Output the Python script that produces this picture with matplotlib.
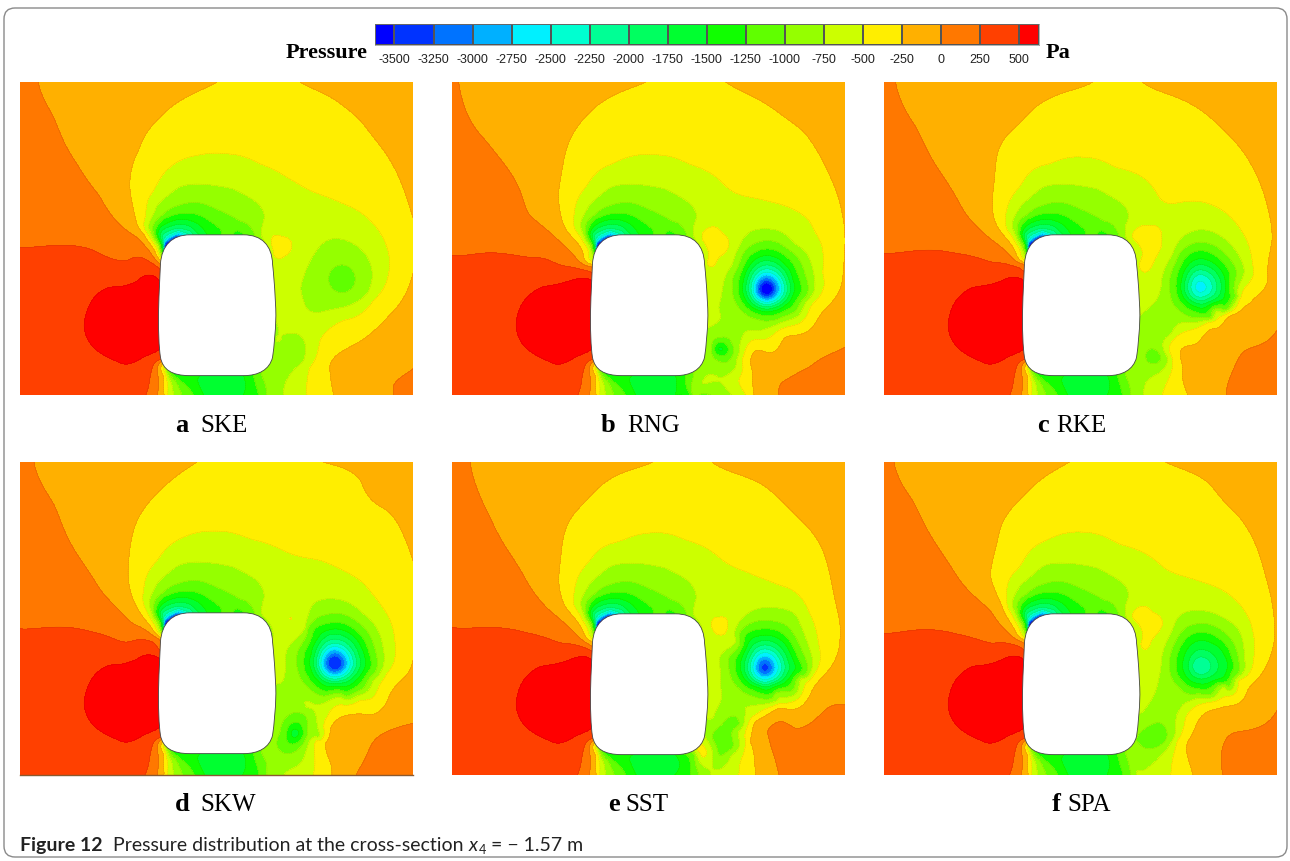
import numpy as np
import matplotlib
matplotlib.use('Agg')
import matplotlib.pyplot as plt
from matplotlib.colors import ListedColormap, BoundaryNorm
from matplotlib.patches import FancyBboxPatch, PathPatch
from matplotlib.path import Path

# 色带
LEVELS = [-3500, -3250, -3000, -2750, -2500, -2250, -2000, -1750, -1500,
          -1250, -1000, -750, -500, -250, 0, 250, 500]
BAND_COLORS = ['#0000ff', '#0033ff', '#0073ff', '#00b0ff', '#00f0ff', '#00ffd0',
               '#00ff95', '#00ff60', '#00ff30', '#10ff00', '#60ff00', '#95ff00',
               '#ccff00', '#ffee00', '#ffb000', '#ff7800', '#ff4000', '#ff0000']
BAR_LABELS = ['-3500', '-3250', '-3000', '-2750', '-2500', '-2250', '-2000', '-1750', '-1500',
              '-1250', '-1000', '-750', '-500', '-250', '0', '250', '500']

MODELS = ['SKE', 'RNG', 'RKE', 'SKW', 'SST', 'SPA']
LETTERS = ['a', 'b', 'c', 'd', 'e', 'f']

# 读图压力采样: (压力, [(x, y), ...]), 坐标为面板内 1/3 像素
NOSE_SAMPLES = [
    (-750, [(420, 516), (395, 461), (410, 371), (475, 316), (540, 306), (640, 321), (710, 361), (732, 411), (725, 461)]),
    (-1000, [(421, 506), (402, 461), (425, 400), (470, 371), (530, 361), (590, 381), (660, 416), (703, 456)]),
    (-1250, [(423, 503), (408, 463), (430, 411), (490, 394), (560, 411), (605, 456), (640, 456), (655, 446), (670, 456)]),
    (-1500, [(425, 500), (414, 463), (435, 426), (490, 411), (535, 426), (560, 456)]),
    (-1750, [(427, 495), (420, 462), (440, 436), (485, 426), (520, 441), (535, 456)]),
    (-2000, [(428, 490), (427, 460), (447, 446), (480, 438), (510, 446), (520, 458)]),
    (-2250, [(429, 487), (436, 463), (458, 450), (490, 450), (505, 456)]),
    (-2500, [(430, 487), (440, 468), (462, 456), (490, 455)]),
    (-2750, [(431, 489), (442, 471), (463, 459)]),
    (-3000, [(432, 491), (444, 474), (465, 461)]),
    (-3500, [(434, 493), (447, 477), (468, 464)]),
]
FAN_SAMPLES = [
    (250, [(425, 831), (395, 861), (377, 938)]),
    (0, [(425, 836), (412, 876), (412, 938)]),
    (-250, [(430, 841), (430, 881), (432, 938)]),
    (-500, [(433, 851), (438, 886), (442, 938)]),
    (-750, [(438, 856), (450, 896), (460, 938)]),
    (-1000, [(445, 861), (465, 896), (485, 938)]),
    (-1250, [(455, 871), (495, 906), (520, 938)]),
    (-1500, [(490, 881), (540, 916), (550, 938), (670, 880), (670, 938)]),
    (-1250, [(700, 880), (715, 938)]),
    (-1000, [(725, 878), (740, 938)]),
]
LOBE_SAMPLES = [
    (500, [(415, 593), (350, 597), (270, 615), (210, 665), (192, 730), (220, 795), (290, 837), (360, 830), (420, 800)]),
    (560, [(330, 720)]),
]
INSIDE_SAMPLES = [
    (-4500, [(470, 490)]), (-1800, [(540, 475)]), (-1150, [(620, 472)]), (-1300, [(680, 472)]),
    (-900, [(735, 500)]), (-1400, [(500, 870)]), (-1600, [(590, 870)]), (-1500, [(660, 870)]),
    (430, [(430, 600)]), (620, [(430, 700)]), (560, [(430, 790)]), (-800, [(590, 670)]),
    (-650, [(750, 600)]), (-800, [(750, 770)]),
]
EDGE_SAMPLES = [
    (130, [(0, 0), (0, 250), (60, 350), (150, 400), (290, 490)]),
    (-125, [(300, 0), (1178, 0), (240, 150), (280, 325), (1100, 60)]),
    (400, [(0, 938), (200, 938), (100, 700)]),
    (-320, [(715, 0)]), (-400, [(715, 110)]),
    (-375, [(400, 230), (515, 130), (900, 170), (1030, 285)]),
]

SKE_LINES = [
    (0, [(85, 25), (130, 130), (200, 270), (270, 370), (350, 470), (430, 550), (1150, 962), (1150, 935), (1208, 885)]),
    (250, [(30, 520), (130, 515), (250, 530), (350, 560), (445, 582)]),
    (-250, [(440, 545), (400, 480), (375, 430), (360, 350), (385, 230), (450, 130), (530, 70), (620, 25), (870, 25), (960, 70),
            (1050, 140), (1120, 230), (1170, 320), (1208, 430), (1208, 600), (1160, 700), (1080, 780), (1000, 830), (960, 870),
            (960, 900), (970, 962)]),
    (-500, [(443, 535), (405, 470), (405, 430), (430, 350), (480, 280), (560, 245), (650, 240), (750, 270), (830, 310), (900, 350),
            (1000, 390), (1080, 440), (1130, 520), (1135, 600), (1090, 680), (1000, 740), (930, 800), (900, 880), (890, 962),
            (783, 510), (815, 488), (845, 515), (820, 548), (790, 540)]),
    (-420, [(815, 517)]), (-300, [(1208, 515)]), (60, [(1208, 962)]),
    (-375, [(1040, 760), (930, 875), (930, 962)]), (-125, [(1100, 870), (1060, 962), (1208, 750)]),
    (-750, [(872, 640), (900, 560), (950, 500), (1030, 510), (1085, 590), (1070, 660), (1000, 700), (930, 715), (880, 680),
            (797, 800), (815, 785), (850, 778), (885, 810), (880, 860), (835, 910), (820, 962)]),
]
RNG_LINES = [
    (0, [(40, 25), (120, 200), (250, 420), (350, 510), (435, 578), (1000, 962), (1010, 925), (1090, 880), (1198, 820)]),
    (250, [(20, 545), (130, 537), (250, 550), (350, 575), (435, 595)]),
    (-250, [(432, 570), (380, 490), (345, 420), (340, 350), (365, 220), (450, 100), (600, 25), (840, 25), (960, 90), (1070, 170),
            (1150, 300), (1190, 420), (1198, 510), (1190, 620), (1120, 730), (1020, 790), (930, 830), (915, 870), (925, 962)]),
    (-500, [(430, 555), (390, 470), (385, 430), (420, 340), (500, 270), (620, 243), (730, 270), (850, 345), (980, 385), (1090, 440),
            (1130, 520), (1132, 600), (1095, 700), (1000, 770), (920, 800), (890, 860), (880, 920), (900, 962),
            (770, 495), (830, 478), (850, 515), (820, 550), (785, 565)]),
    (-400, [(805, 520)]), (70, [(1198, 962)]), (100, [(1120, 920)]),
    (-375, [(1160, 620), (1070, 760), (970, 815), (905, 875), (912, 962)]), (-125, [(1100, 800), (1000, 880), (960, 962), (1198, 700)]),
    (-750, [(790, 760), (820, 700), (830, 650), (860, 570), (905, 480), (960, 465), (1050, 510), (1105, 600), (1085, 680),
            (1010, 745), (940, 770), (890, 790), (880, 840), (870, 880), (810, 905), (770, 930), (750, 962)]),
    (-1000, [(800, 825), (825, 790), (860, 810), (855, 855), (815, 860)]),
    (-1250, [(806, 825), (825, 805), (848, 825), (825, 845)]),
    (-1550, [(825, 825)]),
]
RKE_LINES = [
    (0, [(60, 25), (120, 160), (190, 290), (270, 420), (350, 500), (440, 570), (1052, 962), (1090, 850), (1203, 770)]),
    (250, [(25, 538), (130, 530), (250, 540), (350, 565), (440, 590)]),
    (-250, [(440, 565), (380, 480), (350, 380), (360, 270), (430, 150), (530, 70), (650, 25), (800, 25), (900, 70), (1050, 175),
            (1130, 280), (1180, 420), (1188, 500), (1175, 590), (1120, 690), (1030, 760), (960, 810), (915, 855), (920, 910), (935, 962)]),
    (-500, [(435, 545), (395, 470), (390, 420), (430, 340), (520, 270), (620, 250), (720, 280), (850, 370), (1000, 390), (1090, 460),
            (1130, 570), (1125, 620), (1090, 680), (1000, 745), (900, 790), (880, 830), (860, 962),
            (770, 490), (820, 455), (858, 495), (840, 550), (790, 572)]),
    (-420, [(815, 510)]), (90, [(1203, 962)]), (100, [(1150, 880)]),
    (-375, [(1150, 620), (1060, 720), (950, 785), (897, 850), (897, 962)]), (-125, [(1130, 760), (1020, 850), (990, 962), (1203, 650)]),
    (-750, [(790, 725), (820, 700), (855, 640), (890, 540), (950, 472), (1040, 490), (1105, 590), (1085, 660), (1020, 715),
            (940, 745), (885, 780), (875, 850), (835, 905), (803, 962)]),
    (-1000, [(810, 847), (832, 825), (854, 847), (832, 869)]),
    (-1150, [(832, 847)]),
]
SKW_LINES = [
    (0, [(72, 25), (130, 150), (200, 300), (280, 420), (370, 510), (445, 555), (1040, 958), (1080, 880), (1150, 825), (1208, 808)]),
    (250, [(30, 525), (130, 520), (250, 535), (350, 565), (445, 585)]),
    (-250, [(443, 545), (380, 460), (355, 380), (360, 280), (430, 130), (560, 25), (940, 25), (1050, 80), (1130, 170), (1208, 320),
            (1208, 620), (1140, 720), (1050, 780), (960, 830), (945, 870), (965, 958)]),
    (-500, [(440, 530), (400, 450), (400, 410), (440, 320), (520, 250), (610, 232), (720, 255), (830, 295), (930, 320), (1050, 380),
            (1130, 480), (1155, 580), (1130, 660), (1050, 740), (950, 790), (920, 860), (910, 958)]),
    (-300, [(1208, 470)]), (70, [(1208, 958)]), (100, [(1120, 900)]),
    (-375, [(1170, 640), (1090, 760), (950, 815), (935, 875), (940, 958)]), (-125, [(1120, 790), (1020, 900), (1000, 958), (1208, 720)]),
    (-750, [(797, 690), (825, 650), (885, 520), (905, 455), (960, 435), (1060, 480), (1120, 590), (1090, 680), (990, 730), (890, 760),
            (920, 800), (925, 850), (880, 915), (835, 950), (825, 958)]),
    (-1000, [(810, 830), (880, 780), (890, 830), (860, 890), (815, 895)]),
    (-1250, [(830, 840), (855, 805), (880, 835), (850, 870), (830, 860)]),
    (-1600, [(850, 838)]),
]
SST_LINES = [
    (0, [(75, 22), (130, 180), (250, 390), (340, 490), (432, 570), (1000, 958), (975, 870), (1050, 820), (1198, 750)]),
    (250, [(20, 518), (130, 518), (250, 535), (350, 565), (432, 585)]),
    (-250, [(430, 555), (370, 470), (340, 380), (350, 270), (420, 140), (620, 22), (800, 22), (950, 90), (1060, 190), (1140, 310),
            (1183, 510), (1180, 580), (1110, 690), (1000, 760), (930, 800), (915, 860), (930, 958)]),
    (-500, [(430, 540), (385, 450), (385, 420), (430, 320), (520, 260), (610, 235), (720, 255), (830, 315), (900, 350), (1000, 390),
            (1090, 470), (1120, 570), (1105, 660), (1020, 745), (930, 780), (900, 860), (880, 958),
            (798, 512), (822, 487), (847, 512), (822, 540), (755, 885), (770, 870), (782, 888), (770, 905)]),
    (-420, [(822, 512)]), (-450, [(769, 888)]), (90, [(1198, 958)]), (100, [(1100, 880)]),
    (-125, [(1100, 745), (945, 865), (965, 958), (1198, 650)]),
    (-750, [(825, 650), (870, 560), (890, 490), (960, 458), (1050, 480), (1095, 590), (1070, 670), (990, 725), (900, 760),
            (880, 830), (860, 900), (800, 930), (795, 958), (785, 725), (820, 750), (800, 790), (785, 790)]),
    (-1000, [(800, 850), (840, 795), (880, 810), (860, 880), (820, 900)]),
    (-1120, [(840, 845)]),
]
SPA_LINES = [
    (0, [(55, 25), (110, 140), (180, 270), (260, 390), (350, 480), (440, 565), (1040, 958), (1040, 880), (1110, 830), (1203, 770)]),
    (250, [(25, 538), (130, 528), (250, 542), (350, 568), (440, 585)]),
    (-250, [(438, 555), (380, 460), (345, 370), (365, 260), (430, 140), (580, 25), (870, 25), (1000, 90), (1090, 190), (1170, 370),
            (1195, 500), (1195, 560), (1140, 680), (1040, 760), (960, 815), (935, 865), (950, 958)]),
    (-500, [(435, 540), (395, 460), (392, 420), (430, 340), (510, 260), (620, 235), (730, 270), (870, 345), (980, 385), (1070, 430),
            (1130, 530), (1135, 600), (1090, 680), (1000, 745), (930, 790), (905, 860), (885, 958),
            (770, 490), (830, 475), (860, 510), (830, 555), (795, 570)]),
    (-420, [(815, 515)]), (90, [(1203, 958)]), (100, [(1130, 890)]),
    (-375, [(1115, 680), (1020, 752), (945, 805), (920, 862), (918, 958)]), (-125, [(1130, 770), (990, 860), (995, 958), (1203, 650)]),
    (-750, [(855, 640), (900, 500), (975, 470), (1040, 490), (1090, 530), (1105, 610), (1045, 700), (960, 735), (910, 770),
            (895, 850), (860, 900), (800, 950), (780, 958), (790, 700), (825, 740), (790, 780)]),
    (-1000, [(805, 825), (835, 808), (872, 830), (865, 865), (820, 885)]),
    (-1150, [(838, 845)]),
]
ALL_LINES = [SKE_LINES, RNG_LINES, RKE_LINES, SKW_LINES, SST_LINES, SPA_LINES]

# 涡核: 中心, 核心压力, 各等值线 (压力, 上, 右, 下, 左半径)
CORE_X = [995, 963, 973, 973, 958, 975]
CORE_Y = [615, 645, 640, 628, 638, 637]
CORE_P = [-1100, -3700, -2600, -3450, -3350, -2200]
SKE_RINGS = [(-1000, 42, 40, 42, 40)]
RNG_RINGS = [(-1000, 145, 122, 95, 103), (-1250, 120, 102, 80, 85), (-1500, 100, 82, 68, 72), (-1750, 85, 72, 60, 62),
             (-2000, 72, 62, 54, 54), (-2250, 60, 54, 47, 47), (-2500, 50, 46, 40, 40), (-2750, 42, 38, 34, 34),
             (-3000, 33, 31, 29, 29), (-3250, 25, 24, 23, 23), (-3500, 18, 18, 17, 17)]
RKE_RINGS = [(-1000, 135, 112, 95, 93), (-1250, 110, 92, 75, 73), (-1500, 85, 77, 60, 58), (-1750, 68, 64, 50, 48),
             (-2000, 52, 50, 40, 38), (-2250, 38, 36, 30, 28), (-2500, 18, 18, 15, 15)]
SKW_RINGS = [(-1000, 150, 127, 102, 113), (-1250, 123, 107, 87, 93), (-1500, 103, 92, 72, 73), (-1750, 88, 77, 62, 63),
             (-2000, 72, 66, 55, 55), (-2250, 60, 56, 48, 48), (-2500, 50, 47, 41, 41), (-2750, 40, 38, 34, 34),
             (-3000, 31, 30, 27, 27), (-3250, 22, 22, 20, 20)]
SST_RINGS = [(-1000, 143, 122, 92, 108), (-1250, 118, 102, 77, 88), (-1500, 98, 87, 62, 73), (-1750, 82, 72, 56, 62),
             (-2000, 68, 60, 50, 52), (-2250, 56, 50, 44, 44), (-2500, 45, 40, 36, 36), (-2750, 34, 30, 28, 28),
             (-3000, 24, 22, 21, 21), (-3250, 12, 12, 11, 11)]
SPA_RINGS = [(-1000, 129, 115, 88, 95), (-1250, 102, 95, 68, 75), (-1500, 77, 80, 53, 55), (-1750, 50, 52, 38, 38),
             (-2000, 28, 30, 25, 25)]
ALL_RINGS = [SKE_RINGS, RNG_RINGS, RKE_RINGS, SKW_RINGS, SST_RINGS, SPA_RINGS]

ORIGIN_X = [30, 20, 25, 30, 20, 25]
ORIGIN_Y = [25, 25, 25, 25, 22, 25]
BODY_DY = [0, 0, 0, -6, -3, -3]

PANEL_LEFT = [20, 452, 884, 20, 452, 884]
PANEL_TOP = [83, 83, 83, 463, 463, 463]
PANEL_W, PANEL_H = 393, 313
LETTER_X = [175, 601, 1037, 175, 608, 1052]
NAME_X = [200, 627, 1056, 200, 625, 1067]
LABEL_Y = [426, 426, 426, 805, 805, 805]

W, H = 1290, 862
plt.rcParams['font.family'] = ['Liberation Serif', 'DejaVu Sans']
fig = plt.figure(figsize=(W / 100, H / 100), dpi=100)

cmap = ListedColormap(BAND_COLORS[1:-1])
cmap.set_under(BAND_COLORS[0])
cmap.set_over(BAND_COLORS[-1])
norm = BoundaryNorm(LEVELS, cmap.N)


def px_axes(x, y, w, h):
    return fig.add_axes([x / W, 1 - (y + h) / H, w / W, h / H])


def body_path(dy):
    verts = [(510, 458), (670, 458),
             (725, 458), (755, 490), (757, 545),
             (764, 610), (767, 680), (767, 700),
             (766, 750), (762, 790), (757, 825),
             (748, 862), (715, 880), (670, 880),
             (510, 880),
             (455, 880), (428, 862), (421, 825),
             (416, 790), (415, 750), (415, 700),
             (415, 680), (418, 610), (421, 545),
             (425, 490), (455, 458), (510, 458)]
    codes = [Path.MOVETO, Path.LINETO] + [Path.CURVE4] * 12 + [Path.LINETO] + [Path.CURVE4] * 12
    return Path([(x, y + dy) for x, y in verts], codes)


def collect(i):
    seen = {}
    dy = BODY_DY[i]
    for group in (NOSE_SAMPLES, FAN_SAMPLES, LOBE_SAMPLES, INSIDE_SAMPLES):
        for p, pts in group:
            for x, y in pts:
                seen[(x, y + dy)] = p
    for p, pts in EDGE_SAMPLES:
        for x, y in pts:
            seen[(x, y)] = p
    for p, pts in ALL_LINES[i]:
        for x, y in pts:
            seen[(x - ORIGIN_X[i], max(y - ORIGIN_Y[i], 0))] = p
    cx, cy = CORE_X[i] - ORIGIN_X[i], CORE_Y[i] - ORIGIN_Y[i]
    seen[(cx, cy)] = CORE_P[i]
    for p, rn, re, rs, rw in ALL_RINGS[i]:
        for a in np.deg2rad(np.arange(15, 360, 30)):
            dx = (re if np.cos(a) > 0 else rw) * np.cos(a)
            dyy = (rs if np.sin(a) > 0 else rn) * np.sin(a)
            seen[(cx + dx, cy + dyy)] = p
    xy = np.array(list(seen.keys()), dtype=float)
    return xy[:, 0], xy[:, 1], np.array(list(seen.values()), dtype=float)


def kernel(d2):
    return 0.5 * d2 * np.log(d2 + 1e-12)


# 样本拟合成光滑压力场, 压缩值域以减小机头处过冲
def pressure_field(x, y, p, gx, gy):
    sx, sy = x / 1000, y / 1000
    q = np.log1p((800 - p) / 200)
    n = len(x)
    d2 = (sx[:, None] - sx[None, :]) ** 2 + (sy[:, None] - sy[None, :]) ** 2
    A = np.zeros((n + 3, n + 3))
    A[:n, :n] = kernel(d2) + 2e-5 * np.eye(n)
    A[:n, n] = 1
    A[:n, n + 1] = sx
    A[:n, n + 2] = sy
    A[n:, :n] = A[:n, n:].T
    w = np.linalg.solve(A, np.r_[q, 0, 0, 0])
    out = np.zeros((len(gy), len(gx)))
    for row, yy in enumerate(gy):
        g2 = (gx[:, None] / 1000 - sx) ** 2 + (yy / 1000 - sy) ** 2
        out[row] = kernel(g2) @ w[:n] + w[n] + w[n + 1] * gx / 1000 + w[n + 2] * yy / 1000
    return 800 - 200 * (np.exp(out) - 1)


grid_x = np.arange(0, 1179, 2.0)
grid_y = np.arange(0, 939, 2.0)

for i, model in enumerate(MODELS):
    ax = px_axes(PANEL_LEFT[i], PANEL_TOP[i], PANEL_W, PANEL_H)
    x, y, p = collect(i)
    field = pressure_field(x, y, p, grid_x, grid_y)
    ax.contourf(grid_x, grid_y, field, levels=LEVELS, cmap=cmap, norm=norm, extend='both')
    ax.contour(grid_x, grid_y, field, levels=LEVELS, colors='k', linewidths=0.25, alpha=0.2)
    ax.add_patch(PathPatch(body_path(BODY_DY[i]), fc='white', ec='#444444', lw=0.6, zorder=5))
    ax.set_xlim(0, 1178)
    ax.set_ylim(938, 0)
    ax.set_xticks([])
    ax.set_yticks([])
    for side, s in ax.spines.items():
        s.set_visible(model == 'SKW' and side == 'bottom')
        s.set_color('#8a5a30')
        s.set_linewidth(1)

# 色标
bar = px_axes(374.5, 25, 664.5, 21)
edges = [LEVELS[0] - 128] + LEVELS + [LEVELS[-1] + 128]
bar.pcolormesh(edges, [0, 1], np.arange(18).reshape(1, -1), cmap=ListedColormap(BAND_COLORS),
               edgecolors='#555555', linewidth=0.3)
bar.set_xlim(edges[0], edges[-1])
bar.set_yticks([])
bar.set_xticks(LEVELS)
bar.set_xticklabels(BAR_LABELS, family='Liberation Sans', fontsize=9, color='#222222')
bar.tick_params(axis='x', length=0, pad=6)
for s in bar.spines.values():
    s.set_linewidth(0.4)
    s.set_color('#777777')

# 文字层
top = fig.add_axes([0, 0, 1, 1], zorder=-1)
top.set_xlim(0, W)
top.set_ylim(H, 0)
top.axis('off')
top.add_patch(FancyBboxPatch((4, 9), 1283, 849, boxstyle='round,pad=0,rounding_size=11',
                             fc='white', ec='#8a8a8a', lw=1))
top.text(286, 53, 'Pressure', family='Liberation Serif', weight='bold', fontsize=16, va='center')
top.text(1046, 53, 'Pa', family='Liberation Serif', weight='bold', fontsize=16, va='center')
for i in range(6):
    top.text(LETTER_X[i], LABEL_Y[i], LETTERS[i], weight='bold', fontsize=19, va='center')
    top.text(NAME_X[i], LABEL_Y[i], MODELS[i], fontsize=18, va='center')

renderer = fig.canvas.get_renderer()
cur = 20
for txt, kw in [('Figure 12', dict(weight='bold')),
                ('  Pressure distribution at the cross-section ', dict()),
                ('x', dict(style='italic')),
                ('4', dict(fontsize=9, dy=3)),
                (' = \u2212 1.57 m', dict())]:
    kw = dict(kw)
    dy = kw.pop('dy', 0)
    fs = kw.pop('fontsize', 14)
    t = top.text(cur, 851 + dy, txt, family='Lato', fontsize=fs, va='baseline', color='#222222', **kw)
    cur = t.get_window_extent(renderer).x1 + 0.5

fig.savefig('out.png', dpi=100)
